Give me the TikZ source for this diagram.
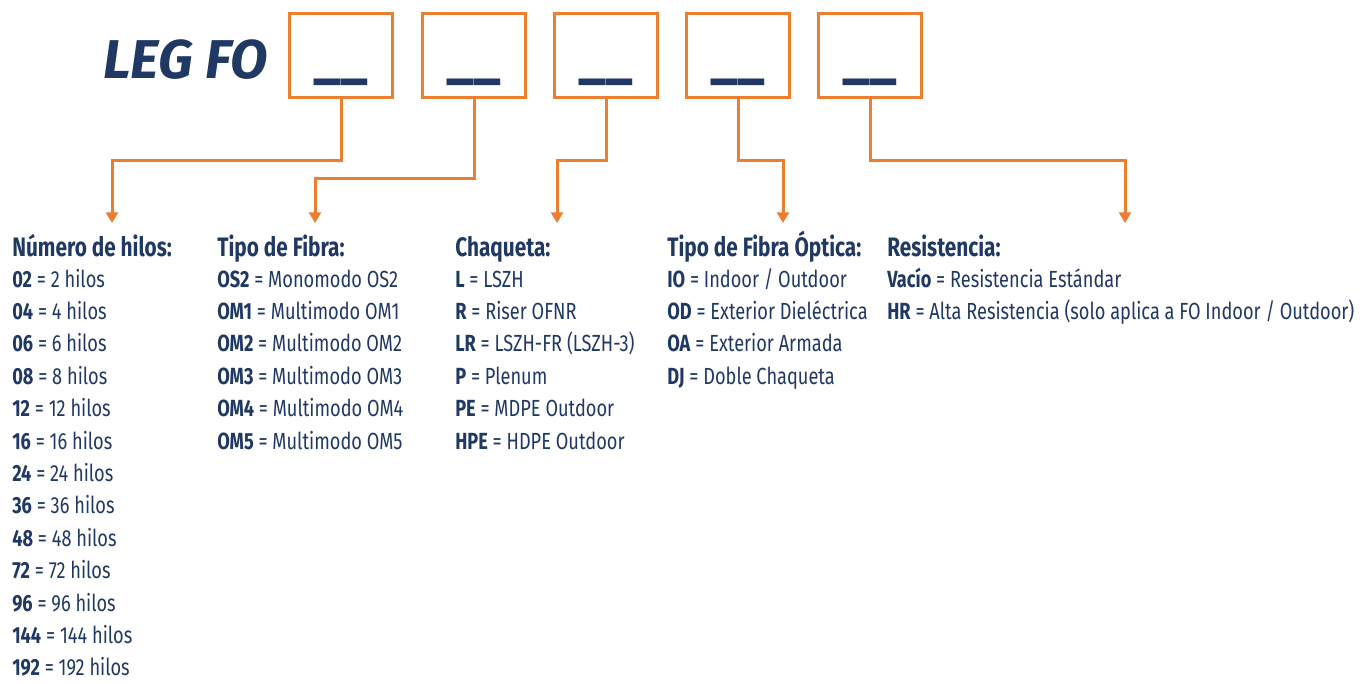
\documentclass[tikz,border=0pt]{standalone}
\usepackage{fontspec}
\setmainfont{Fira Sans}[FakeStretch=0.78]
\newfontfamily\legtitlefont{Fira Sans}
\usetikzlibrary{arrows.meta,positioning,calc}
\definecolor{legorange}{RGB}{237,125,49}
\definecolor{legblue}{RGB}{31,56,100}

\begin{document}
\begin{tikzpicture}[x=0.75pt, y=-0.75pt,
  slot/.style={draw=legorange, line width=2.25pt, minimum width=77pt,
               minimum height=63pt, inner sep=0pt},
  blank/.style={anchor=base, text=legblue, font=\legtitlefont\fontsize{40}{44}\selectfont\bfseries, inner sep=0pt},
  head/.style={anchor=base west, text=legblue, inner sep=0pt,
               font=\fontsize{20}{24}\selectfont\bfseries},
  item/.style={anchor=base west, text=legblue, inner sep=0pt,
               font=\fontsize{17.5}{20}\selectfont},
  link/.style={draw=legorange, line width=2.25pt, -{Triangle[width=9pt, length=8pt]}}]
  \useasboundingbox (0,0) rectangle (1366,683);

  % code boxes
  \node[anchor=base west, text=legblue, inner sep=0pt,
        font=\legtitlefont\fontsize{41}{46}\selectfont\bfseries\itshape] (title) at (103,78) {LEG FO};
  \foreach \i/\x in {1/341,2/474,3/606,4/738,5/870} {
    \node[slot] (b\i) at (\x,55) {};
    \node[blank] (u\i) at (\x,76) {\_\_};
  }

  % arrow ends
  \coordinate (a1) at (112,223);
  \coordinate (a2) at (315,223);
  \coordinate (a3) at (557,223);
  \coordinate (a4) at (783,223);
  \coordinate (a5) at (1125,223);
  \draw[link] (b1.south) -- ++(0,62) -| (a1);
  \draw[link] (b2.south) -- ++(0,80) -| (a2);
  \draw[link] (b3.south) -- ++(0,62) -| (a3);
  \draw[link] (b4.south) -- ++(0,62) -| (a4);
  \draw[link] (b5.south) -- ++(0,62) -| (a5);

  % headings
  \node[head] (hilos) at (12,256) {Número de hilos:};
  \node[head] (fibra) at (217,256) {Tipo de Fibra:};
  \node[head] (chaqueta) at (455,256) {Chaqueta:};
  \node[head] (optica) at (667,256) {Tipo de Fibra Óptica:};
  \node[head] (resist) at (887,256) {Resistencia:};

  % options
  \foreach \c/\d [count=\k from 0] in {02/2 hilos,04/4 hilos,06/6 hilos,08/8 hilos,
      12/12 hilos,16/16 hilos,24/24 hilos,36/36 hilos,48/48 hilos,72/72 hilos,
      96/96 hilos,144/144 hilos,192/192 hilos}
    \node[item] (hilos\k) at (12,287+32.4*\k) {\textbf{\c} = \d};
  \foreach \c/\d [count=\k from 0] in {OS2/Monomodo OS2,OM1/Multimodo OM1,
      OM2/Multimodo OM2,OM3/Multimodo OM3,OM4/Multimodo OM4,OM5/Multimodo OM5}
    \node[item] (fibra\k) at (217,287+32.4*\k) {\textbf{\c} = \d};
  \foreach \c/\d [count=\k from 0] in {L/LSZH,R/Riser OFNR,LR/{LSZH-FR (LSZH-3)},
      P/Plenum,PE/MDPE Outdoor,HPE/HDPE Outdoor}
    \node[item] (chaqueta\k) at (455,287+32.4*\k) {\textbf{\c} = \d};
  \foreach \c/\d [count=\k from 0] in {IO/{Indoor / Outdoor},OD/Exterior Dieléctrica,
      OA/Exterior Armada,DJ/Doble Chaqueta}
    \node[item] (optica\k) at (667,287+32.4*\k) {\textbf{\c} = \d};
  \node[item] (resist0) at (887,287) {\textbf{Vacío} = Resistencia Estándar};
  \node[item] (resist1) at (887,319.4) {\textbf{HR} = Alta Resistencia (solo aplica a FO Indoor / Outdoor)};
\end{tikzpicture}
\end{document}
